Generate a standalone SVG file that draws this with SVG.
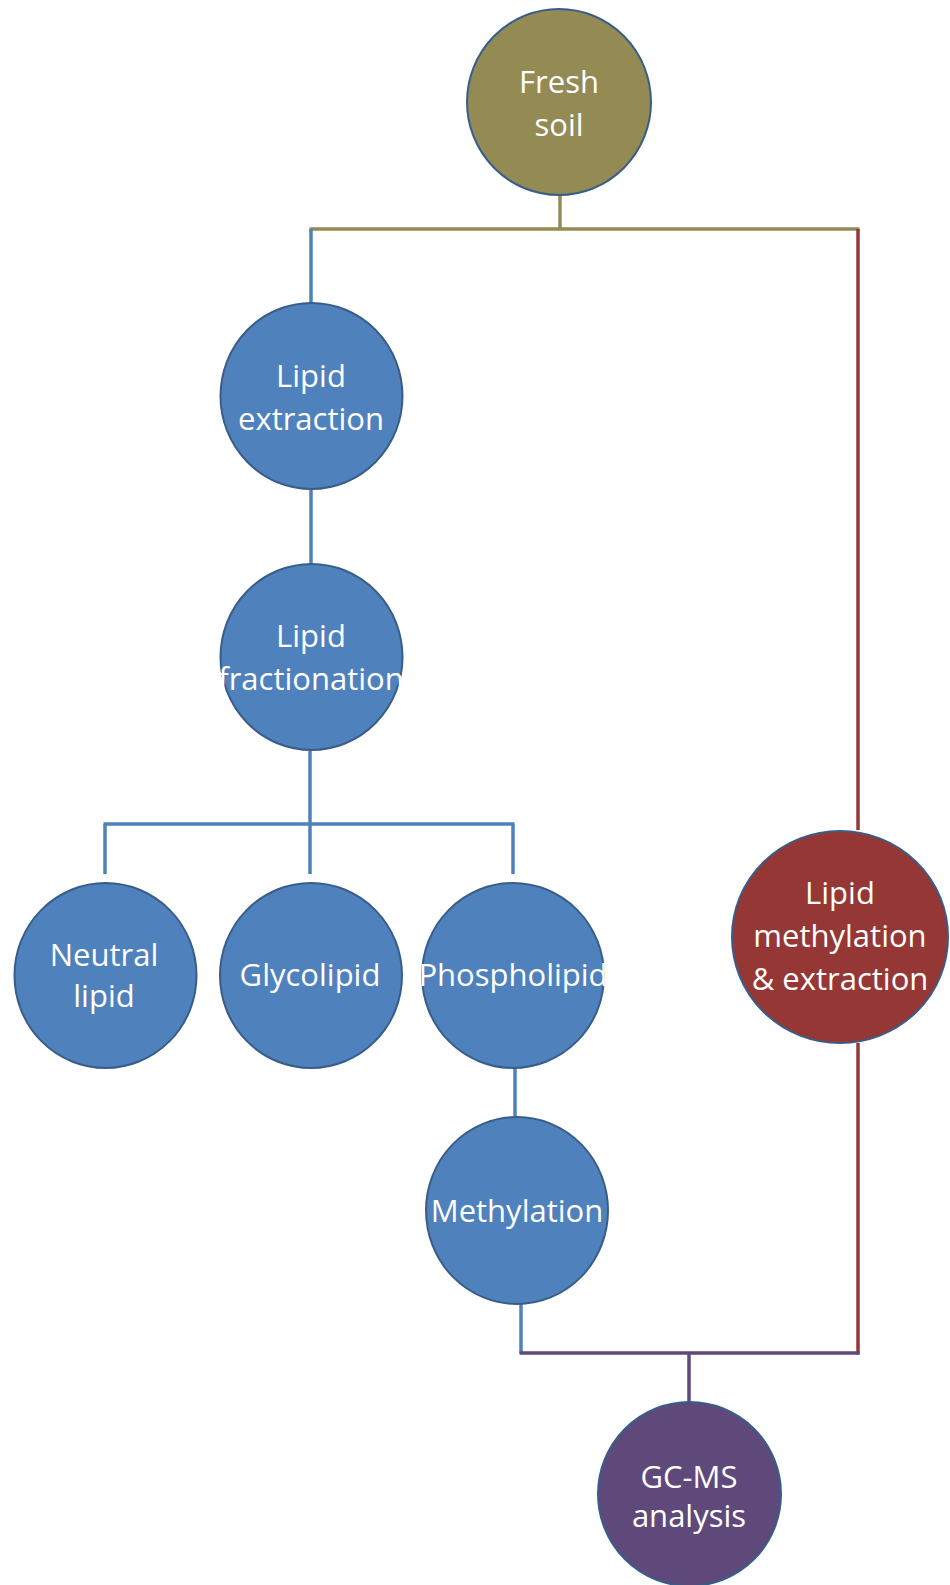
<svg xmlns="http://www.w3.org/2000/svg" width="950" height="1585" viewBox="0 0 950 1585">
<style>
.node{stroke:#385D8A;stroke-width:2}
.blue{fill:#4F81BD}
.olive{fill:#948A54}
.red{fill:#953735}
.purple{fill:#5F497A}
.lbl{font-family:"Open Sans","Noto Sans",sans-serif;font-size:31px;fill:#FFFFFF;text-anchor:middle}
.c{fill:none;stroke-width:3.5;stroke-linecap:butt}
.cb{stroke:#4F81BD}
.co{stroke:#948A54}
.cr{stroke:#953735}
.cp{stroke:#5F497A}
</style>
<defs>
<clipPath id="clipLF"><rect x="220" y="560" width="183" height="194"/></clipPath>
<clipPath id="clipPL"><rect x="421" y="880" width="184" height="192"/></clipPath>
</defs>
<g id="connectors">
<line class="c co" x1="560" y1="195" x2="560" y2="229"/>
<line class="c co" x1="309.5" y1="229" x2="859.5" y2="229"/>
<line class="c cb" x1="311" y1="229" x2="311" y2="303"/>
<line class="c cb" x1="311" y1="489" x2="311" y2="564"/>
<line class="c cb" x1="310" y1="750" x2="310" y2="874"/>
<line class="c cb" x1="103.5" y1="824" x2="514.5" y2="824"/>
<line class="c cb" x1="105" y1="824" x2="105" y2="874"/>
<line class="c cb" x1="513" y1="824" x2="513" y2="874"/>
<line class="c cb" x1="515" y1="1068" x2="515" y2="1117"/>
<line class="c cb" x1="521" y1="1304" x2="521" y2="1353"/>
<line class="c cr" x1="858" y1="229" x2="858" y2="830"/>
<line class="c cr" x1="858" y1="1043" x2="858" y2="1354.5"/>
<line class="c cp" x1="519.5" y1="1353" x2="859.5" y2="1353"/>
<line class="c cp" x1="689" y1="1353" x2="689" y2="1402"/>
</g>
<g id="fresh-soil">
<ellipse class="node olive" cx="559" cy="102" rx="92" ry="93"/>
<text class="lbl" x="559" y="93">Fresh</text>
<text class="lbl" x="559" y="136">soil</text>
</g>
<g id="lipid-extraction">
<ellipse class="node blue" cx="311.5" cy="396" rx="91" ry="93"/>
<text class="lbl" x="311" y="387">Lipid</text>
<text class="lbl" x="311" y="430">extraction</text>
</g>
<g id="lipid-fractionation">
<ellipse class="node blue" cx="311.5" cy="657" rx="91" ry="93"/>
<g clip-path="url(#clipLF)">
<text class="lbl" x="311" y="647">Lipid</text>
<text class="lbl" x="311" y="690">fractionation</text>
</g>
</g>
<g id="neutral-lipid">
<ellipse class="node blue" cx="105.5" cy="975.5" rx="91" ry="92.5"/>
<text class="lbl" x="104" y="966">Neutral</text>
<text class="lbl" x="104" y="1007">lipid</text>
</g>
<g id="glycolipid">
<ellipse class="node blue" cx="311" cy="975.5" rx="91" ry="92.5"/>
<text class="lbl" x="310" y="986">Glycolipid</text>
</g>
<g id="phospholipid">
<ellipse class="node blue" cx="513" cy="975.5" rx="91" ry="92.5"/>
<g clip-path="url(#clipPL)">
<text class="lbl" x="513" y="986">Phospholipid</text>
</g>
</g>
<g id="methylation">
<ellipse class="node blue" cx="517" cy="1210.5" rx="91" ry="93.5"/>
<text class="lbl" x="517" y="1222">Methylation</text>
</g>
<g id="lipid-methylation-extraction">
<ellipse class="node red" cx="840" cy="937" rx="108" ry="106"/>
<text class="lbl" x="840" y="904">Lipid</text>
<text class="lbl" x="840" y="947">methylation</text>
<text class="lbl" x="840" y="990">&amp; extraction</text>
</g>
<g id="gc-ms-analysis">
<ellipse class="node purple" cx="689.5" cy="1494" rx="91.5" ry="92"/>
<text class="lbl" x="689" y="1488">GC-MS</text>
<text class="lbl" x="689" y="1527">analysis</text>
</g>
</svg>
